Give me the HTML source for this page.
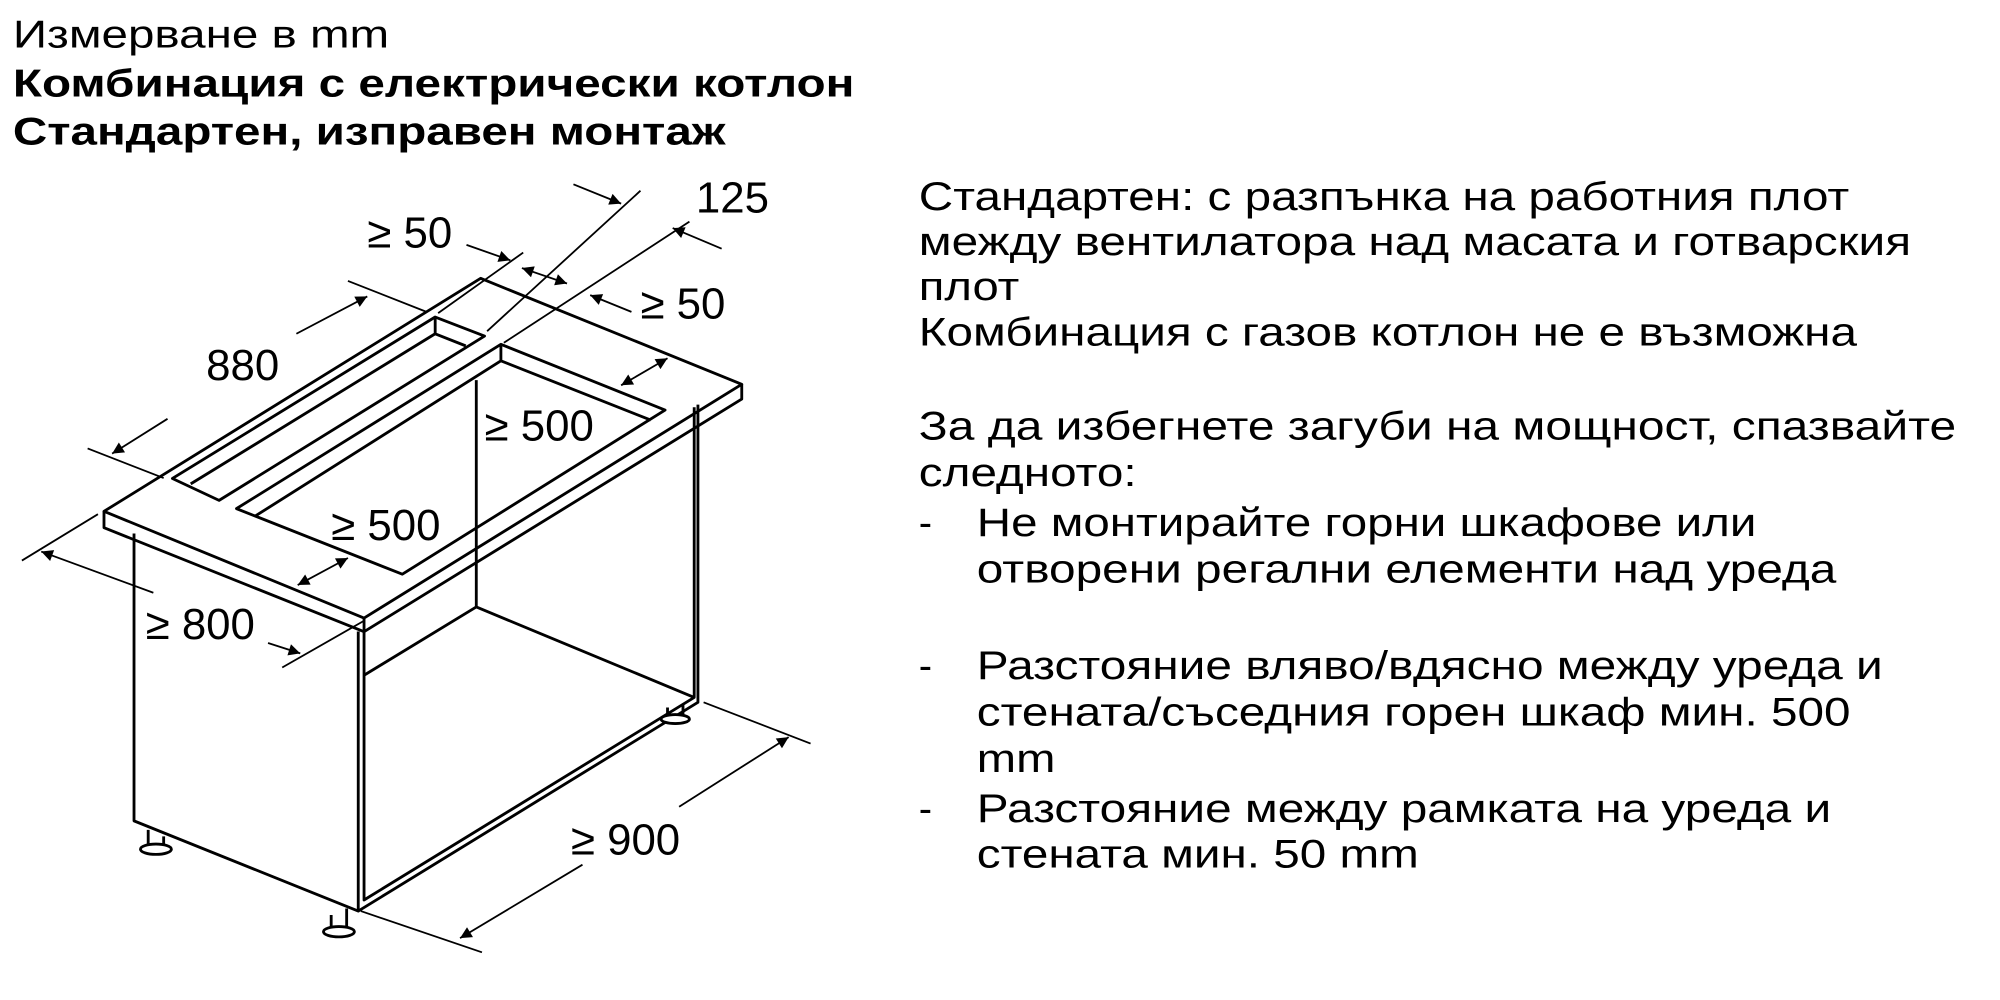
<!DOCTYPE html>
<html><head><meta charset="utf-8"><style>
html,body{margin:0;padding:0;background:#fff;width:2000px;height:1000px;overflow:hidden}
svg{display:block}
text{font-family:"Liberation Sans",sans-serif;fill:#000}
</style></head><body>
<svg width="2000" height="1000" viewBox="0 0 1552 776" xmlns="http://www.w3.org/2000/svg">
<defs>
<marker id="a" viewBox="0 0 10 10" refX="10" refY="5" markerWidth="18" markerHeight="9" orient="auto-start-reverse" markerUnits="userSpaceOnUse"><path d="M0,0 L10,5 L0,10 z" fill="#000"/></marker>
</defs>
<g font-size="30">
<text x="10" y="37" textLength="292" lengthAdjust="spacingAndGlyphs">Измерване в mm</text>
<text x="10" y="75" font-weight="bold" textLength="653" lengthAdjust="spacingAndGlyphs">Комбинация с електрически котлон</text>
<text x="10" y="112" font-weight="bold" textLength="553" lengthAdjust="spacingAndGlyphs">Стандартен, изправен монтаж</text>
</g>
<g font-size="31">
<text x="713" y="163" textLength="722" lengthAdjust="spacingAndGlyphs">Стандартен: с разпънка на работния плот</text>
<text x="713" y="198" textLength="770" lengthAdjust="spacingAndGlyphs">между вентилатора над масата и готварския</text>
<text x="713" y="233" textLength="78" lengthAdjust="spacingAndGlyphs">плот</text>
<text x="713" y="268" textLength="728" lengthAdjust="spacingAndGlyphs">Комбинация с газов котлон не е възможна</text>
<text x="713" y="341" textLength="805" lengthAdjust="spacingAndGlyphs">За да избегнете загуби на мощност, спазвайте</text>
<text x="713" y="377" textLength="169" lengthAdjust="spacingAndGlyphs">следното:</text>
<text x="713" y="416">-</text><text x="758" y="416" textLength="605" lengthAdjust="spacingAndGlyphs">Не монтирайте горни шкафове или</text>
<text x="758" y="452" textLength="667" lengthAdjust="spacingAndGlyphs">отворени регални елементи над уреда</text>
<text x="713" y="527">-</text><text x="758" y="527" textLength="703" lengthAdjust="spacingAndGlyphs">Разстояние вляво/вдясно между уреда и</text>
<text x="758" y="563" textLength="678" lengthAdjust="spacingAndGlyphs">стената/съседния горен шкаф мин. 500</text>
<text x="758" y="599" textLength="61" lengthAdjust="spacingAndGlyphs">mm</text>
<text x="713" y="638">-</text><text x="758" y="638" textLength="663" lengthAdjust="spacingAndGlyphs">Разстояние между рамката на уреда и</text>
<text x="758" y="673" textLength="343" lengthAdjust="spacingAndGlyphs">стената мин. 50 mm</text>
</g>
<g fill="none" stroke="#000" stroke-width="2.2" stroke-linejoin="round">
<!-- countertop -->
<path d="M80.7,396.8 L373,216 L575.6,298.2 L282.5,479.6 Z" fill="#fff"/>
<path d="M80.7,396.8 L80.7,409.5 L282.5,490.2 L575.6,309.7 L575.6,298.2"/>
<path d="M282.5,479.6 L282.5,490.2"/>
<!-- cabinet -->
<path d="M104,414 L104,637 L278,707 L278,490"/>
<path d="M282.5,490 L282.5,698.4 L538.7,541.2 L538.7,316"/>
<path d="M278,707 L541.6,545 L541.6,314"/>
<path d="M369.6,295 L369.6,471 L538.7,541.2"/>
<path d="M282.5,524 L369.6,471"/>
<!-- feet -->
<path d="M115,644 L115,657 M127,649 L127,658"/><ellipse cx="121" cy="659" rx="12" ry="4" fill="#fff"/>
<path d="M257,710 L257,722 M269,705 L269,722"/><ellipse cx="263" cy="723" rx="12" ry="4" fill="#fff"/>
<path d="M518,549 L518,557 M530,546 L530,557"/><ellipse cx="524" cy="558" rx="11" ry="3.5" fill="#fff"/>
<!-- vent slot -->
<path d="M133.8,371.3 L337.7,246 L376,260.8 L170,388.3 Z"/>
<path d="M337.7,246 L337.7,259 L361.4,268.4 M337.7,259 L148,375.5"/>
<!-- hob cutout -->
<path d="M183.5,394.7 L388.7,267.2 L516.1,318.2 L312.2,445.6 Z"/>
<path d="M388.7,267.2 L388.7,280 L505,326 M388.7,280 L198,400.5"/>
<!-- extension lines -->
<g stroke-width="1.4">
<path d="M68,348 L127,371 M270,218 L331,242"/>
<path d="M17,435 L76,399 M219,518 L282,482"/>
<path d="M280,707 L374,739 M546,545 L629,577"/>
<path d="M340,243 L406,196 M378,257 L497,148 M391,266 L535,172"/>
</g>
<!-- dimension arrows -->
<g stroke-width="1.4">
<path d="M130,325 L87,352" marker-end="url(#a)"/>
<path d="M230,259 L285,230" marker-end="url(#a)"/>
<path d="M119,460 L32,428" marker-end="url(#a)"/>
<path d="M208,499 L233,507" marker-end="url(#a)"/>
<path d="M452,671 L357,728" marker-end="url(#a)"/>
<path d="M527,626 L612,572" marker-end="url(#a)"/>
<path d="M482,299 L518,278" marker-start="url(#a)" marker-end="url(#a)"/>
<path d="M231,454 L270,433" marker-start="url(#a)" marker-end="url(#a)"/>
<path d="M445,143 L482,158" marker-end="url(#a)"/>
<path d="M560,193 L522,177" marker-end="url(#a)"/>
<path d="M362,190 L396,202" marker-end="url(#a)"/>
<path d="M405,208 L440,220" marker-start="url(#a)" marker-end="url(#a)"/>
<path d="M490,242 L458,229" marker-end="url(#a)"/>
</g>
</g>
<g font-size="34">
<text x="540" y="165">125</text>
<text x="285" y="192">≥ 50</text>
<text x="497" y="247">≥ 50</text>
<text x="160" y="295">880</text>
<text x="376" y="342">≥ 500</text>
<text x="257" y="419">≥ 500</text>
<text x="113" y="496">≥ 800</text>
<text x="443" y="663">≥ 900</text>
</g>
</svg>
</body></html>
